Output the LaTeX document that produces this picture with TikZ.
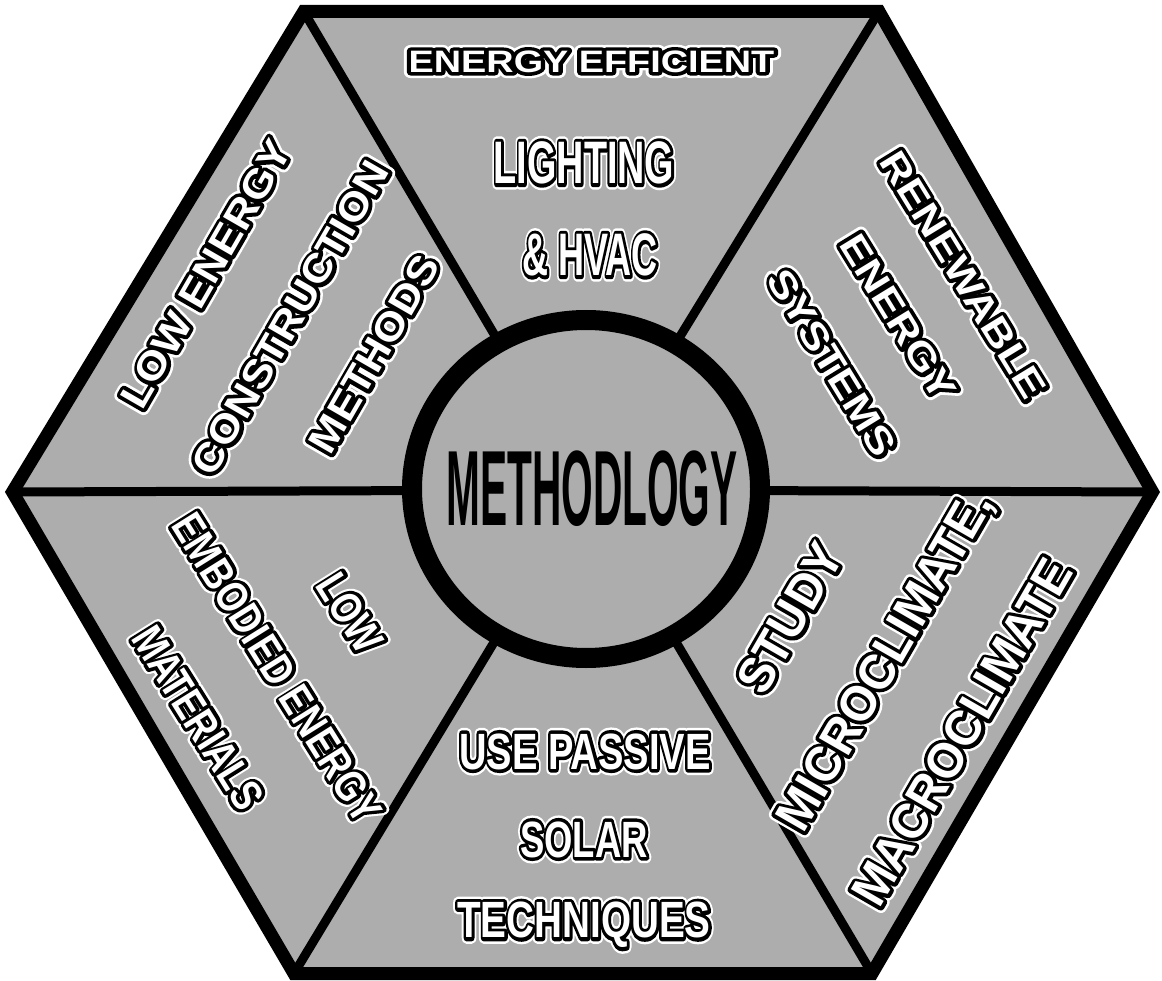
\documentclass[tikz,border=0pt]{standalone}
\usepackage{fontspec}
\setmainfont{Liberation Sans}
\usepackage{graphicx}
\usetikzlibrary{shapes.geometric}
\definecolor{bg}{gray}{0.68}
\newcommand\olt[3]{%
  \fontsize{#1}{#1}\selectfont\bfseries\color{white}%
  \scalebox{#2}[1]{%
  \makebox[0pt][l]{\special{pdf:literal direct 1 Tr 12 w 1 j 1 1 1 RG}#3}%
  \makebox[0pt][l]{\special{pdf:literal direct 2 Tr 7 w 1 j 0 0 0 RG 0 0 0 rg}#3}%
  \special{pdf:literal direct 0 Tr 1 1 1 rg 1 1 1 RG}#3}}
\tikzset{
  lbl/.style={inner sep=0pt, outer sep=0pt},
  rim/.style={line width=13pt, line join=miter, draw=black},
  spoke/.style={line width=9pt, draw=black},
}
\begin{document}
\begin{tikzpicture}[x=1pt,y=-1pt]
\useasboundingbox (0,0) rectangle (1162,981);
\coordinate (vTL) at (303.75,11.5);
\coordinate (vTR) at (879,11.5);
\coordinate (vR) at (1152.5,492);
\coordinate (vBR) at (872,973.5);
\coordinate (vBL) at (294,973.5);
\coordinate (vL) at (12.5,492);
\coordinate (ctr) at (586,490);
\fill[bg] (vTL) -- (vTR) -- (vR) -- (vBR) -- (vBL) -- (vL) -- cycle;
\foreach \v in {vTL,vTR,vR,vBR,vBL,vL} \draw[spoke] (\v) -- (ctr);
\draw[rim] (vTL) -- (vTR) -- (vR) -- (vBR) -- (vBL) -- (vL) -- cycle;
\node[ellipse, draw=black, line width=20pt, fill=bg, minimum width=348pt, minimum height=338pt, inner sep=0pt] (hub) at (586,489) {};
\node[lbl, text=black] (title) at (592,489) {\scalebox{0.38}[1]{\fontsize{107}{107}\selectfont\bfseries METHODLOGY}};
% top
\node[lbl] (t1) at (591.5,61.5) {\olt{31}{1.22}{ENERGY EFFICIENT}};
\node[lbl] (t2) at (584,163) {\olt{60}{0.63}{LIGHTING}};
\node[lbl] (t3) at (590,255) {\olt{60}{0.6}{\&\ HVAC}};
% top right
\node[lbl, rotate=-58.5] (r1) at (963,275) {\olt{37.4}{1.18}{RENEWABLE}};
\node[lbl, rotate=-58.5] (r2) at (898,317) {\olt{37.4}{1.18}{ENERGY}};
\node[lbl, rotate=-58.5] (r3) at (832,363) {\olt{37.4}{1.18}{SYSTEMS}};
% top left
\node[lbl, rotate=60] (l1) at (206,274) {\olt{39.5}{1.115}{LOW ENERGY}};
\node[lbl, rotate=60] (l2) at (290,318) {\olt{39.5}{1.115}{CONSTRUCTION}};
\node[lbl, rotate=60] (l3) at (374,354) {\olt{39.5}{1.115}{METHODS}};
% bottom left
\node[lbl, rotate=-58] (b1) at (350,613) {\olt{44}{0.816}{LOW}};
\node[lbl, rotate=-58] (b2) at (277,668) {\olt{44}{0.816}{EMBODIED ENERGY}};
\node[lbl, rotate=-58] (b3) at (198,718) {\olt{44}{0.816}{MATERIALS}};
% bottom
\node[lbl] (p1) at (585,751.5) {\olt{51}{0.747}{USE PASSIVE}};
\node[lbl] (p2) at (584,839.5) {\olt{51}{0.715}{SOLAR}};
\node[lbl] (p3) at (584,925) {\olt{51}{0.758}{TECHNIQUES}};
% bottom right
\node[lbl, rotate=60] (s1) at (790,618) {\olt{50}{0.96}{STUDY}};
\node[lbl, rotate=60] (s2) at (887,662) {\olt{50}{0.96}{MICROCLIMATE,}};
\node[lbl, rotate=60] (s3) at (962,732) {\olt{50}{0.96}{MACROCLIMATE}};
\end{tikzpicture}
\end{document}
